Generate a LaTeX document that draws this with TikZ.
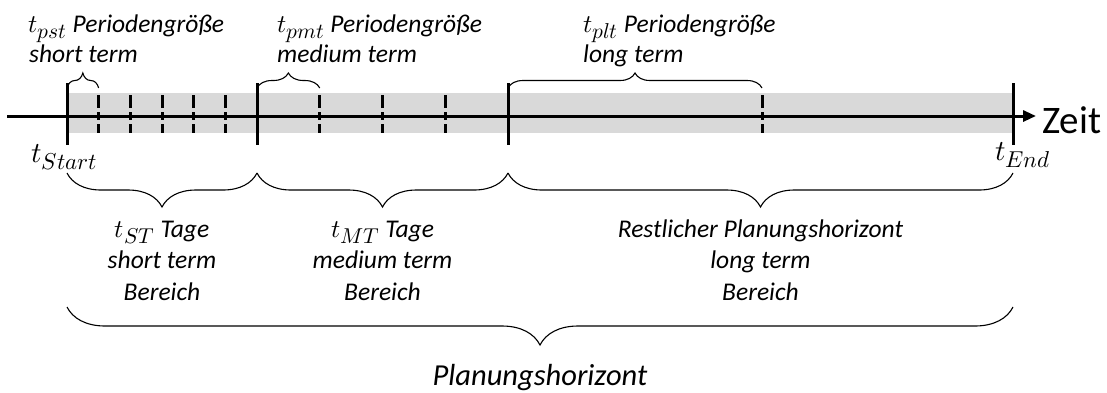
\documentclass[tikz,border=0pt]{standalone}
\usepackage{fontspec}
\usepackage{unicode-math}
\setmainfont{Carlito}
\setmathfont{Latin Modern Math}
% larger subscripts for the label sizes used below
\DeclareMathSizes{25.5}{25.5}{21.5}{16}
\DeclareMathSizes{29}{29}{23}{18}
\usetikzlibrary{arrows.meta,decorations.pathreplacing}

\begin{document}
\begin{tikzpicture}[x=1pt,y=-1pt,
  lbl/.style={font=\fontsize{25.5}{30}\selectfont\itshape, inner sep=0pt},
  biglbl/.style={font=\fontsize{30.5}{36}\selectfont\itshape, inner sep=0pt},
  mathlbl/.style={font=\fontsize{29}{34}\selectfont, inner sep=0pt},
  axis/.style={line width=3pt, -{Triangle[length=13pt,width=11pt]}},
  solidtick/.style={line width=3pt},
  dashtick/.style={line width=3pt, dash pattern=on 13pt off 4pt on 8pt off 4pt},
  band/.style={fill=black!15, draw=none},
  topbrace/.style={line width=1.1pt, decorate, decoration={brace, amplitude=15pt}},
  lowbrace/.style={line width=1.1pt, decorate, decoration={brace, mirror, amplitude=34pt}},
  allbrace/.style={line width=1.1pt, decorate, decoration={brace, mirror, amplitude=38pt}}
]
\useasboundingbox (0,0) rectangle (1107,392);

% shaded planning interval
\fill[band] (67,93) rectangle (1013,133);

% time axis
\coordinate (axstart) at (7,116);
\coordinate (axend) at (1036,116);
\draw[axis] (axstart) -- (axend);

% section borders
\foreach \x/\n in {67/start, 257/st, 508/mt, 1013/end} {
  \coordinate (\n top) at (\x,83);
  \coordinate (\n bot) at (\x,145);
  \draw[solidtick] (\n top) -- (\n bot);
}

% period borders
\foreach \k in {1,...,5} {
  \coordinate (ps\k) at ({67+\k*190/6},95);
  \draw[dashtick] (ps\k) -- ++(0,38);
}
\foreach \k in {1,2,3} {
  \coordinate (pm\k) at ({257+\k*251/4},95);
  \draw[dashtick] (pm\k) -- ++(0,38);
}
\coordinate (pl1) at (762,95);
\draw[dashtick] (pl1) -- ++(0,38);

% period size braces
\coordinate (bs0) at (67,88);  \coordinate (bs1) at ({67+190/6},88);
\coordinate (bm0) at (257,88); \coordinate (bm1) at ({257+251/4},88);
\coordinate (bl0) at (508,88); \coordinate (bl1) at (762,88);
\draw[topbrace] (bs0) -- (bs1);
\draw[topbrace] (bm0) -- (bm1);
\draw[topbrace] (bl0) -- (bl1);

\node[lbl, anchor=base west] (pst1) at (28,32) {$t_{pst}$ Periodengröße};
\node[lbl, anchor=base west] (pst2) at (29,62) {short term};
\node[lbl, anchor=base west] (pmt1) at (277,32) {$t_{pmt}$ Periodengröße};
\node[lbl, anchor=base west] (pmt2) at (277,62) {medium term};
\node[lbl, anchor=base west] (plt1) at (583,32) {$t_{plt}$ Periodengröße};
\node[lbl, anchor=base west] (plt2) at (583,62) {long term};

% axis labels
\node[mathlbl, anchor=base west] (tstart) at (31,162) {$t_{Start}$};
\node[mathlbl, anchor=base] (tend) at (1023,160) {$t_{End}$};
\node[font=\fontsize{39}{44}\selectfont, inner sep=0pt, anchor=base west] (zeit) at (1042,133) {Zeit};

% range braces
\coordinate (r0) at (67,173);
\coordinate (r1) at (257,173);
\coordinate (r2) at (508,173);
\coordinate (r3) at (1013,173);
\draw[lowbrace] (r0) -- (r1);
\draw[lowbrace] (r1) -- (r2);
\draw[lowbrace] (r2) -- (r3);

\node[lbl, anchor=base] (st1) at (162,237) {$t_{ST}$ Tage};
\node[lbl, anchor=base] (st2) at (162,268.5) {short term};
\node[lbl, anchor=base] (st3) at (162,300) {Bereich};
\node[lbl, anchor=base] (mt1) at (382.5,237) {$t_{MT}$ Tage};
\node[lbl, anchor=base] (mt2) at (382.5,268.5) {medium term};
\node[lbl, anchor=base] (mt3) at (382.5,300) {Bereich};
\node[lbl, anchor=base] (lt1) at (760.5,237) {Restlicher Planungshorizont};
\node[lbl, anchor=base] (lt2) at (760.5,268.5) {long term};
\node[lbl, anchor=base] (lt3) at (760.5,300) {Bereich};

% whole planning horizon
\coordinate (h0) at (67,307);
\coordinate (h1) at (1013,307);
\draw[allbrace] (h0) -- (h1);
\node[biglbl, anchor=base] (horizon) at (540,385) {Planungshorizont};
\end{tikzpicture}
\end{document}
